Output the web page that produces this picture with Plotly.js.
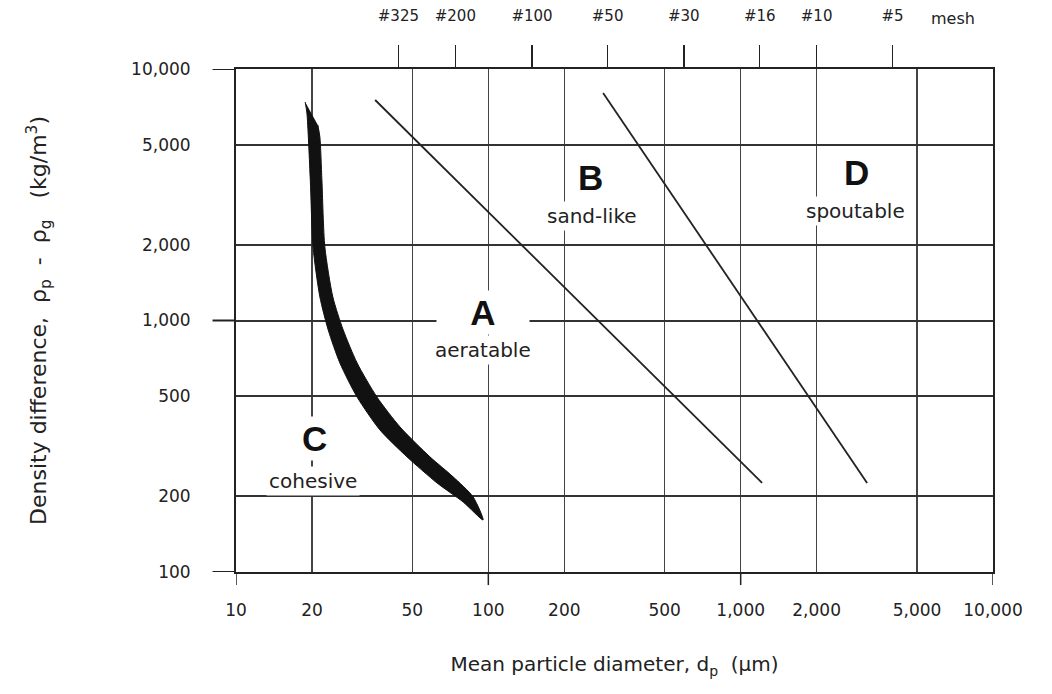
<!DOCTYPE html>
<html><head><meta charset="utf-8">
<script src="https://cdn.plot.ly/plotly-3.0.1.min.js"></script>
<style>html,body{margin:0;padding:0;background:#fff}#chart{width:1052px;height:694px}</style>
</head><body><div id="chart"></div>
<script>
// Axis ticks
const sizeTicks = [10, 20, 50, 100, 200, 500, 1000, 2000, 5000, 10000];
const sizeTickLabels = ['10', '20', '50', '100', '200', '500', '1,000', '2,000', '5,000', '10,000'];
const densTicks = [100, 200, 500, 1000, 2000, 5000, 10000];
const densTickLabels = ['100', '200', '500', '1,000', '2,000', '5,000', '10,000'];
const decadeSizes = [10, 100, 1000, 10000];
const decadeDens = [100, 1000, 10000];
// Sieve mesh scale (top)
const meshSizes = [44, 74, 149, 297, 595, 1190, 2000, 4000];
const meshLabels = ['#325', '#200', '#100', '#50', '#30', '#16', '#10', '#5'];
// Group A/B boundary
const abLineX = [35.6, 1216];
const abLineY = [7530, 226];
// Group B/D boundary
const bdLineX = [285, 3170];
const bdLineY = [8030, 226];
// Group C/A boundary band (outline)
const cBandX = [18.8, 19.1, 19.7, 20.2, 21.5, 23.2, 25.8, 30.2, 37.2, 47.6, 62.6, 79.4, 95.3,
                87.0, 72.5, 58.7, 44.7, 36.2, 30.2, 26.6, 24.2, 22.5, 21.9, 21.5, 21.1];
const cBandY = [7390, 6680, 3620, 1960, 1240, 917, 678, 496, 367, 287, 226, 190, 161,
                199, 239, 287, 377, 496, 678, 917, 1240, 1960, 3620, 5365, 5990];
// Region labels
const groupLetters = ['A', 'B', 'C', 'D'];
const groupNames = ['aeratable', 'sand-like', 'cohesive', 'spoutable'];

const F = 'DejaVu Sans, sans-serif';
const LF = 'Liberation Sans, Arial, sans-serif';
const ink = '#222';

const traces = [
  {type: 'scatter', mode: 'lines', x: cBandX, y: cBandY, fill: 'toself', fillcolor: '#111',
   line: {color: '#111', width: 1, shape: 'spline', smoothing: 0.7}, hoverinfo: 'skip', showlegend: false},
  {type: 'scatter', mode: 'lines', x: abLineX, y: abLineY, line: {color: ink, width: 1.8}, showlegend: false},
  {type: 'scatter', mode: 'lines', x: bdLineX, y: bdLineY, line: {color: ink, width: 1.8}, showlegend: false},
  // empty helper trace so that the top mesh axis is drawn
  {type: 'scatter', mode: 'markers', x: [], y: [], xaxis: 'x2', yaxis: 'y', showlegend: false, hoverinfo: 'skip'}
];

const shapes = [];
decadeSizes.forEach(v => shapes.push({type: 'line', xref: 'x', yref: 'paper', x0: v, x1: v, y0: 0, y1: -0.026,
  line: {color: ink, width: 1.5}}));
decadeDens.forEach(v => shapes.push({type: 'line', xref: 'paper', yref: 'y', x0: 0, x1: -0.031, y0: v, y1: v,
  line: {color: ink, width: 2}}));

function letter(t, x, y, bg, w) {
  const a = {x: x, y: y, xref: 'x', yref: 'y', showarrow: false, text: '<b>' + t + '</b>',
    font: {family: LF, size: 35, color: '#111'}, borderpad: 2};
  if (bg) { a.bgcolor = '#fff'; }
  if (w) { a.width = w; }
  return a;
}
function name(t, x, y) {
  return {x: x, y: y, xref: 'x', yref: 'y', showarrow: false, bgcolor: '#fff', text: t,
    font: {family: F, size: 20, color: ink}, borderpad: 2};
}

const annotations = [
  letter(groupLetters[0], 1.979, 3.030, true, 88),
  name(groupNames[0], 1.977, 2.883),
  letter(groupLetters[1], 2.403, 3.567, false),
  name(groupNames[1], 2.411, 3.4155),
  letter(groupLetters[2], 1.313, 2.529, true),
  name(groupNames[2], 1.305, 2.362),
  letter(groupLetters[3], 3.461, 3.590, false),
  name(groupNames[3], 3.457, 3.435),
  {x: 3.842, y: 1.101, xref: 'x', yref: 'paper', yanchor: 'middle', showarrow: false, text: 'mesh',
   font: {family: F, size: 16, color: ink}}
];

const layout = {
  width: 1052, height: 694,
  margin: {l: 236, r: 59, t: 69, b: 122},
  paper_bgcolor: '#fff', plot_bgcolor: '#fff',
  showlegend: false,
  xaxis: {type: 'log', range: [1, 4], tickvals: sizeTicks, ticktext: sizeTickLabels, ticks: '',
    showgrid: true, gridcolor: '#444', gridwidth: 1.5, zeroline: false,
    showline: true, linecolor: ink, linewidth: 2, mirror: true,
    tickfont: {family: F, size: 17, color: ink}, ticklabelstandoff: 22, automargin: true,
    title: {text: 'Mean particle diameter, d<sub>p</sub>\u00a0\u00a0(\u00b5m)', font: {family: F, size: 20, color: ink}, standoff: 38}},
  yaxis: {type: 'log', range: [2, 4], tickvals: densTicks, ticktext: densTickLabels, ticks: '',
    showgrid: true, gridcolor: '#333', gridwidth: 2, zeroline: false,
    showline: true, linecolor: ink, linewidth: 2, mirror: true,
    tickfont: {family: F, size: 17, color: ink}, ticklabelstandoff: 40, automargin: true,
    title: {text: 'Density difference,\u00a0 \u03c1<sub>p</sub>\u00a0 -\u00a0 \u03c1<sub>g</sub>\u00a0\u00a0\u00a0(kg/m<sup>3</sup>)', font: {family: F, size: 22, color: ink}, standoff: 78}},
  xaxis2: {type: 'log', range: [1, 4], overlaying: 'x', side: 'top', anchor: 'y',
    tickvals: meshSizes, ticktext: meshLabels, ticks: 'outside', ticklen: 23, tickwidth: 1.5, tickcolor: ink,
    showgrid: false, showline: false, zeroline: false, ticklabelstandoff: 18,
    tickfont: {family: F, size: 15, color: ink}},
  shapes: shapes,
  annotations: annotations
};

Plotly.newPlot('chart', traces, layout, {displayModeBar: false, staticPlot: true});
</script>
</body></html>
